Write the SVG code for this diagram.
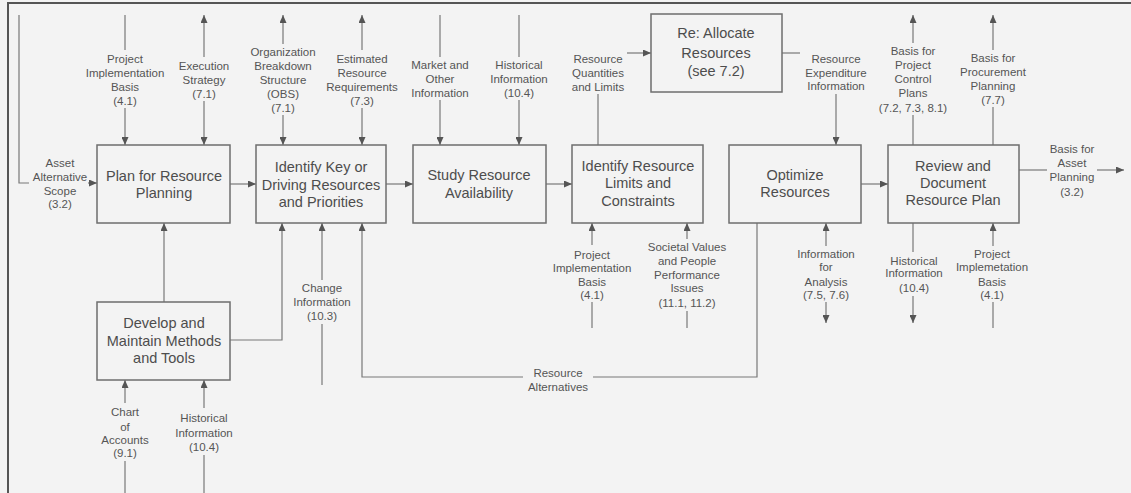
<svg xmlns="http://www.w3.org/2000/svg" width="1131" height="493" viewBox="0 0 1131 493">
<style>
.bg{fill:#f3f3f3}
.frame{stroke:#555;stroke-width:2;fill:none}
.box{fill:none;stroke:#6e6e6e;stroke-width:1.5}
.ln{fill:none;stroke:#787878;stroke-width:1.2}
.a{marker-end:url(#arr)}
.bx{font-family:"Liberation Sans",Arial,sans-serif;font-size:14.5px;fill:#4d4d4d;text-anchor:middle}
.lb{font-family:"Liberation Sans",Arial,sans-serif;font-size:11.5px;fill:#555;text-anchor:middle}
</style>
<defs>
<marker id="arr" markerUnits="userSpaceOnUse" markerWidth="8" markerHeight="7" refX="8" refY="3.5" orient="auto">
<path d="M0,0 L8,3.5 L0,7 z" fill="#555"/>
</marker>
</defs>
<rect class="bg" x="0" y="0" width="1131" height="493"/>
<path class="frame" d="M8,493 V3 H1131"/>

<g id="connectors">
<!-- Asset Alternative Scope -->
<path class="ln" d="M19,15 V183 H29"/>
<path class="ln a" d="M88,183 H97"/>
<!-- Project Implementation Basis top -->
<path class="ln" d="M125,15 V50"/>
<path class="ln a" d="M125,108 V145"/>
<!-- Execution Strategy -->
<path class="ln a" d="M204,57 V15"/>
<path class="ln a" d="M204,101 V145"/>
<!-- OBS -->
<path class="ln a" d="M283,44 V15"/>
<path class="ln a" d="M283,115 V145"/>
<!-- Estimated Resource Requirements -->
<path class="ln a" d="M362,50 V15"/>
<path class="ln a" d="M362,108 V145"/>
<!-- Market -->
<path class="ln" d="M440,15 V57"/>
<path class="ln a" d="M440,100 V145"/>
<!-- Historical top -->
<path class="ln" d="M519,15 V57"/>
<path class="ln a" d="M519,100 V145"/>
<!-- Resource Quantities -->
<path class="ln" d="M598,145 V94"/>
<path class="ln a" d="M627,53 H651"/>
<!-- Resource Expenditure -->
<path class="ln" d="M782,53 H800"/>
<path class="ln a" d="M836,94 V145"/>
<!-- Basis for Project Control -->
<path class="ln a" d="M913,43 V15"/>
<path class="ln" d="M913,115 V145"/>
<!-- Basis for Procurement -->
<path class="ln a" d="M993,50 V15"/>
<path class="ln" d="M993,107 V145"/>
<!-- Asset Planning output -->
<path class="ln" d="M1019,170 H1047"/>
<path class="ln a" d="M1097,170 H1124"/>
<!-- box to box -->
<path class="ln a" d="M230,184 H256"/>
<path class="ln a" d="M386,184 H413"/>
<path class="ln a" d="M546,184 H572"/>
<path class="ln a" d="M861,184 H888"/>
<!-- Develop to Plan -->
<path class="ln a" d="M164,302 V223"/>
<!-- Develop to Identify Key -->
<path class="ln a" d="M230,340 H282 V223"/>
<!-- Change Information -->
<path class="ln" d="M322,385 V324"/>
<path class="ln a" d="M322,280 V223"/>
<!-- Resource Alternatives -->
<path class="ln" d="M757,223 V377 H593"/>
<path class="ln a" d="M523,377 H362 V223"/>
<!-- Limits bottom inputs -->
<path class="ln" d="M592,328 V302"/>
<path class="ln a" d="M592,245 V223"/>
<path class="ln" d="M687,328 V311"/>
<path class="ln a" d="M687,239 V223"/>
<!-- Information for Analysis -->
<path class="ln a" d="M826,246 V223"/>
<path class="ln a" d="M826,302 V323"/>
<!-- Historical bottom output -->
<path class="ln" d="M913,223 V252"/>
<path class="ln a" d="M913,296 V323"/>
<!-- Project Implemetation Basis -->
<path class="ln" d="M993,328 V302"/>
<path class="ln a" d="M993,246 V223"/>
<!-- Chart of Accounts -->
<path class="ln" d="M125,493 V461"/>
<path class="ln a" d="M125,403 V380"/>
<!-- Historical under Develop -->
<path class="ln" d="M204,493 V455"/>
<path class="ln a" d="M204,408 V380"/>
</g>

<g id="labels">
<text class="lb"><tspan x="60" y="167">Asset</tspan><tspan x="60" y="181">Alternative</tspan><tspan x="60" y="195">Scope</tspan><tspan x="60" y="208">(3.2)</tspan></text>
<text class="lb"><tspan x="125" y="63">Project</tspan><tspan x="125" y="77">Implementation</tspan><tspan x="125" y="91">Basis</tspan><tspan x="125" y="105">(4.1)</tspan></text>
<text class="lb"><tspan x="204" y="70">Execution</tspan><tspan x="204" y="84">Strategy</tspan><tspan x="204" y="98">(7.1)</tspan></text>
<text class="lb"><tspan x="283" y="56">Organization</tspan><tspan x="283" y="70">Breakdown</tspan><tspan x="283" y="84">Structure</tspan><tspan x="283" y="98">(OBS)</tspan><tspan x="283" y="112">(7.1)</tspan></text>
<text class="lb"><tspan x="362" y="63">Estimated</tspan><tspan x="362" y="77">Resource</tspan><tspan x="362" y="91">Requirements</tspan><tspan x="362" y="105">(7.3)</tspan></text>
<text class="lb"><tspan x="440" y="69">Market and</tspan><tspan x="440" y="83">Other</tspan><tspan x="440" y="97">Information</tspan></text>
<text class="lb"><tspan x="519" y="69">Historical</tspan><tspan x="519" y="83">Information</tspan><tspan x="519" y="97">(10.4)</tspan></text>
<text class="lb"><tspan x="598" y="63">Resource</tspan><tspan x="598" y="77">Quantities</tspan><tspan x="598" y="91">and Limits</tspan></text>
<text class="lb"><tspan x="836" y="63">Resource</tspan><tspan x="836" y="77">Expenditure</tspan><tspan x="836" y="90">Information</tspan></text>
<text class="lb"><tspan x="913" y="55">Basis for</tspan><tspan x="913" y="69">Project</tspan><tspan x="913" y="83">Control</tspan><tspan x="913" y="97">Plans</tspan><tspan x="913" y="112">(7.2, 7.3, 8.1)</tspan></text>
<text class="lb"><tspan x="993" y="62">Basis for</tspan><tspan x="993" y="76">Procurement</tspan><tspan x="993" y="90">Planning</tspan><tspan x="993" y="104">(7.7)</tspan></text>
<text class="lb"><tspan x="1072" y="153">Basis for</tspan><tspan x="1072" y="167">Asset</tspan><tspan x="1072" y="181">Planning</tspan><tspan x="1072" y="196">(3.2)</tspan></text>
<text class="lb"><tspan x="322" y="292">Change</tspan><tspan x="322" y="306">Information</tspan><tspan x="322" y="320">(10.3)</tspan></text>
<text class="lb"><tspan x="592" y="259">Project</tspan><tspan x="592" y="272">Implementation</tspan><tspan x="592" y="286">Basis</tspan><tspan x="592" y="299">(4.1)</tspan></text>
<text class="lb"><tspan x="687" y="251">Societal Values</tspan><tspan x="687" y="265">and People</tspan><tspan x="687" y="279">Performance</tspan><tspan x="687" y="292">Issues</tspan><tspan x="687" y="307">(11.1, 11.2)</tspan></text>
<text class="lb"><tspan x="558" y="377">Resource</tspan><tspan x="558" y="391">Alternatives</tspan></text>
<text class="lb"><tspan x="826" y="258">Information</tspan><tspan x="826" y="271">for</tspan><tspan x="826" y="286">Analysis</tspan><tspan x="826" y="299">(7.5, 7.6)</tspan></text>
<text class="lb"><tspan x="914" y="265">Historical</tspan><tspan x="914" y="277">Information</tspan><tspan x="914" y="292">(10.4)</tspan></text>
<text class="lb"><tspan x="992" y="258">Project</tspan><tspan x="992" y="271">Implemetation</tspan><tspan x="992" y="286">Basis</tspan><tspan x="992" y="299">(4.1)</tspan></text>
<text class="lb"><tspan x="125" y="416">Chart</tspan><tspan x="125" y="431">of</tspan><tspan x="125" y="444">Accounts</tspan><tspan x="125" y="457">(9.1)</tspan></text>
<text class="lb"><tspan x="204" y="422">Historical</tspan><tspan x="204" y="437">Information</tspan><tspan x="204" y="451">(10.4)</tspan></text>
</g>

<g id="plan">
<rect class="box" x="97" y="145" width="133" height="78"/>
<text class="bx"><tspan x="164" y="181">Plan for Resource</tspan><tspan x="164" y="198">Planning</tspan></text>
</g>
<g id="identify-key">
<rect class="box" x="256" y="145" width="130" height="78"/>
<text class="bx"><tspan x="321" y="172">Identify Key or</tspan><tspan x="321" y="190">Driving Resources</tspan><tspan x="321" y="207">and Priorities</tspan></text>
</g>
<g id="study">
<rect class="box" x="413" y="145" width="133" height="78"/>
<text class="bx"><tspan x="479" y="180">Study Resource</tspan><tspan x="479" y="198">Availability</tspan></text>
</g>
<g id="limits">
<rect class="box" x="572" y="145" width="131" height="78"/>
<text class="bx"><tspan x="638" y="171">Identify Resource</tspan><tspan x="638" y="188">Limits and</tspan><tspan x="638" y="206">Constraints</tspan></text>
</g>
<g id="reallocate">
<rect class="box" x="651" y="14" width="131" height="78"/>
<text class="bx"><tspan x="716" y="38">Re: Allocate</tspan><tspan x="716" y="58">Resources</tspan><tspan x="716" y="76">(see 7.2)</tspan></text>
</g>
<g id="optimize">
<rect class="box" x="729" y="145" width="132" height="78"/>
<text class="bx"><tspan x="795" y="180">Optimize</tspan><tspan x="795" y="197">Resources</tspan></text>
</g>
<g id="review">
<rect class="box" x="888" y="145" width="131" height="78"/>
<text class="bx"><tspan x="953" y="171">Review and</tspan><tspan x="953" y="188">Document</tspan><tspan x="953" y="205">Resource Plan</tspan></text>
</g>
<g id="develop">
<rect class="box" x="97" y="302" width="133" height="78"/>
<text class="bx"><tspan x="164" y="328">Develop and</tspan><tspan x="164" y="346">Maintain Methods</tspan><tspan x="164" y="363">and Tools</tspan></text>
</g>
</svg>
